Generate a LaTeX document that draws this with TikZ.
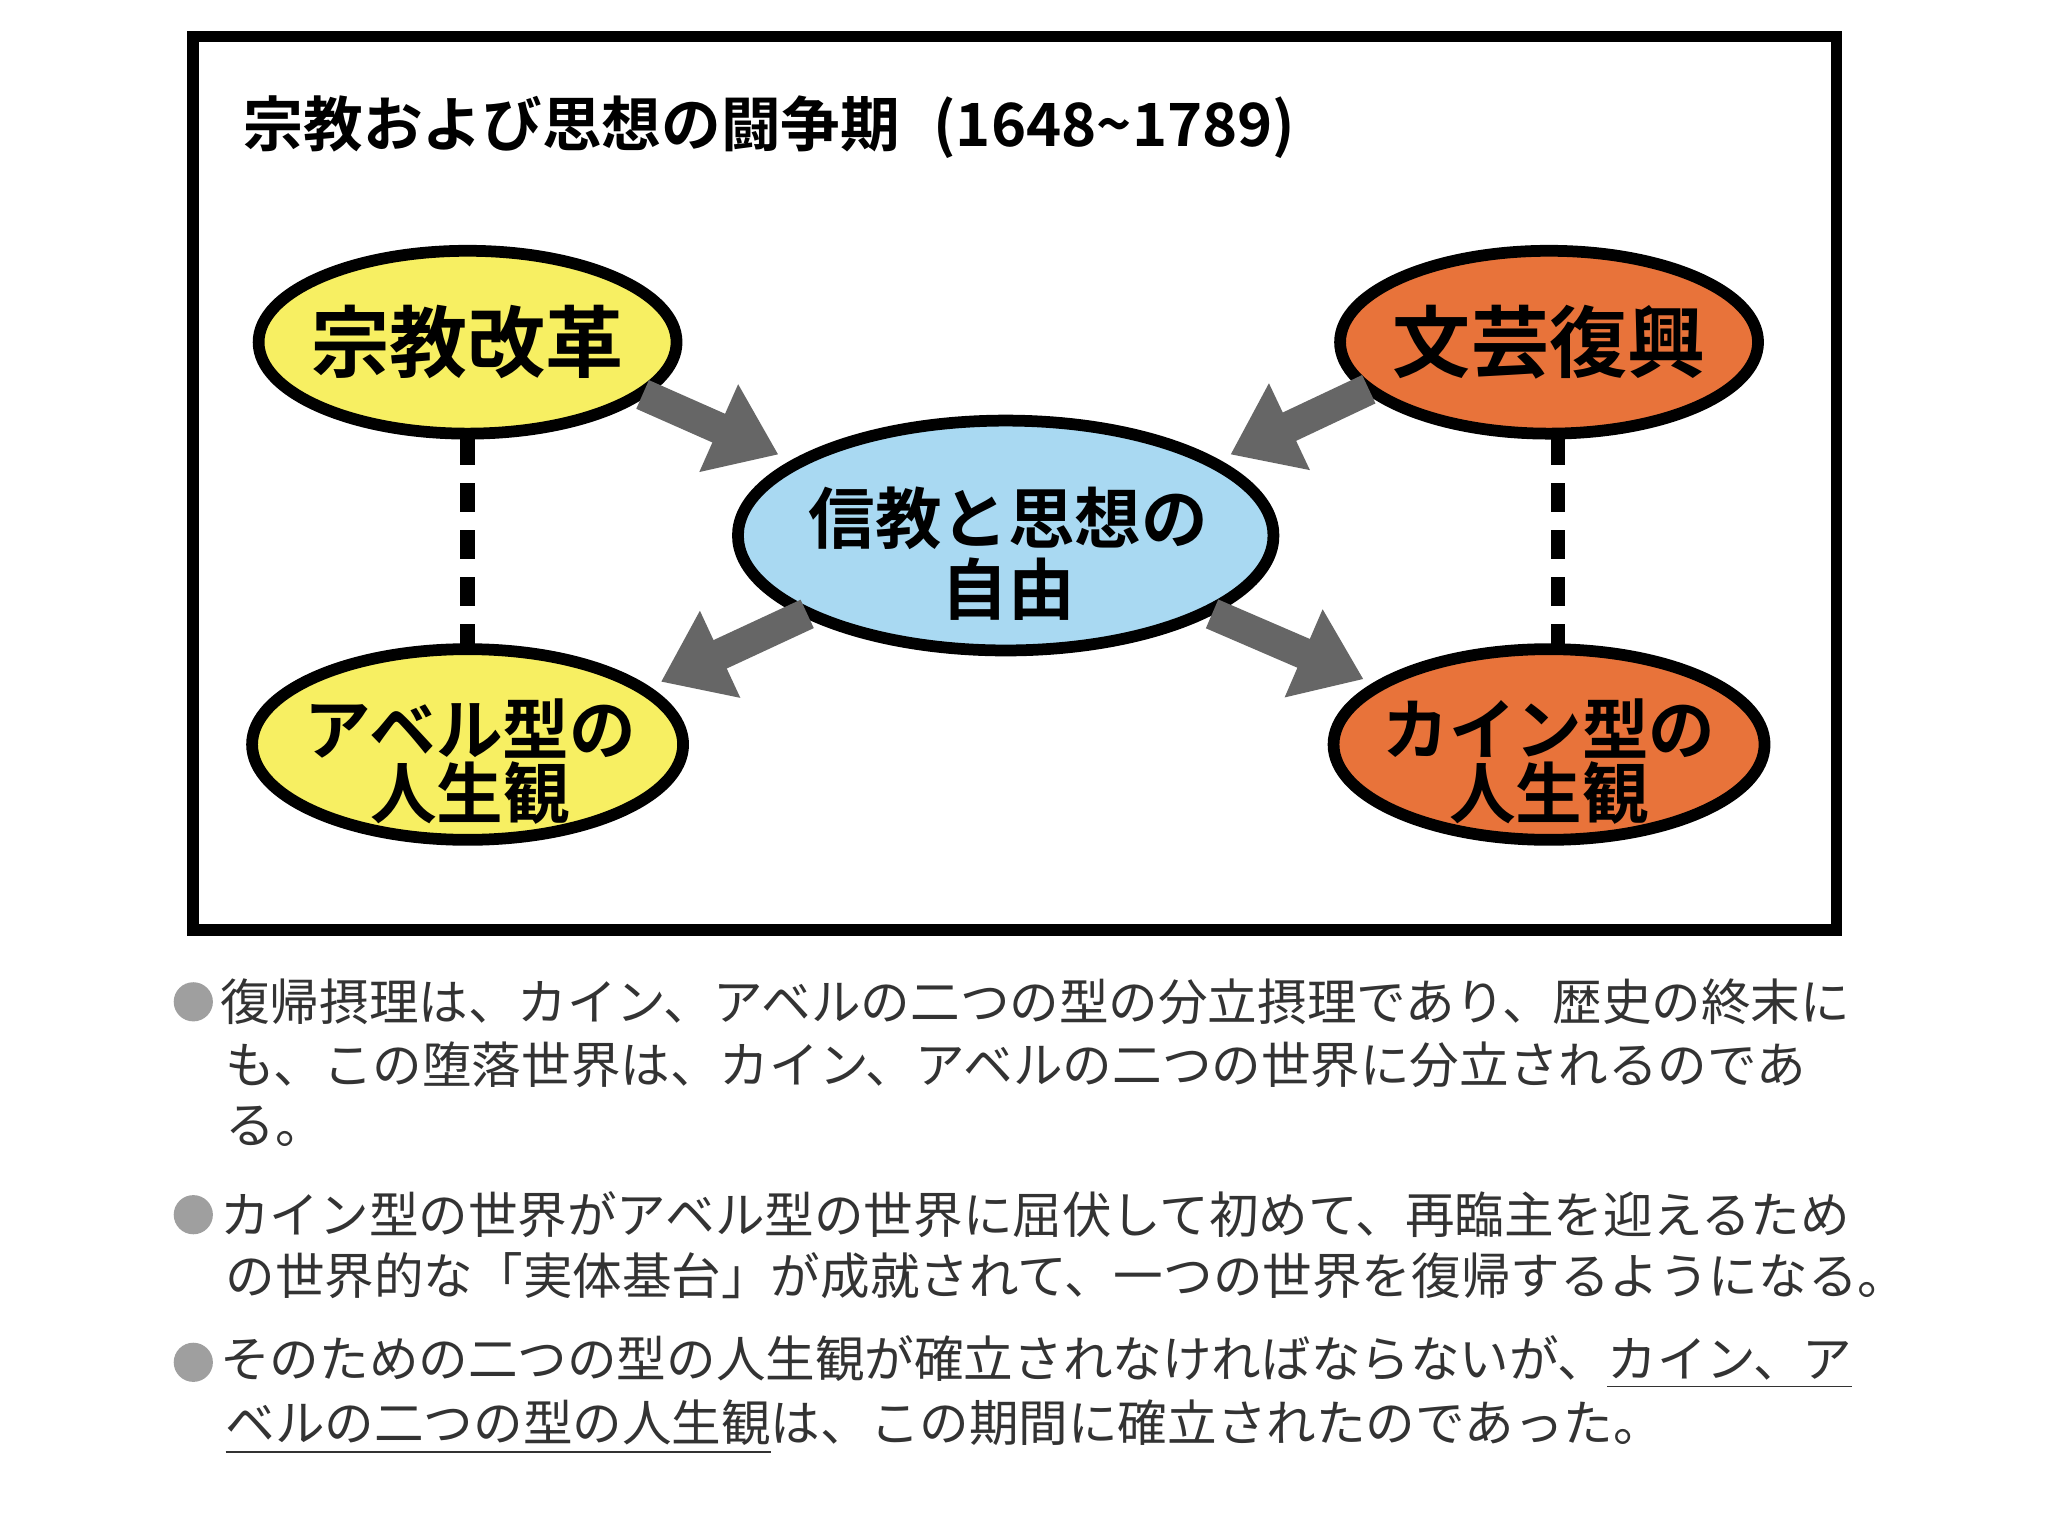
\documentclass[tikz,border=0pt]{standalone}
\usepackage{fontspec}
\newfontfamily\cjk{Noto Sans CJK JP}
\newfontfamily\cjkb{Noto Sans CJK JP}[UprightFont=* Bold]
\usetikzlibrary{arrows.meta}
\definecolor{yel}{HTML}{F7EF62}
\definecolor{ora}{HTML}{E8733A}
\definecolor{blu}{HTML}{A9D9F2}
\definecolor{arr}{HTML}{666666}
\definecolor{txt}{HTML}{333333}
\begin{document}
\begin{tikzpicture}[x=0.1mm,y=-0.1mm,
  lab/.style={font=\cjkb\fontsize{17pt}{19pt}\selectfont,align=center},
  garr/.style={arr,line width=2.4mm,-{Triangle[length=5mm,width=7mm]}},
  dots/.style={line width=1.1mm,dash pattern=on 2.2mm off 1.4mm},
  body/.style={anchor=west,inner sep=0pt,text=txt,font=\cjk\fontsize{10.8pt}{12pt}\selectfont},
  bul/.style={fill=gray!75,draw=none,circle,minimum size=3mm,inner sep=0pt}]
\useasboundingbox (0,0) rectangle (1568,1176);
\fill[white] (0,0) rectangle (1568,1176);
\draw[line width=0.9mm] (148,28) rectangle (1406,712);
\node[anchor=west,inner sep=0pt,font=\cjkb\fontsize{13pt}{15pt}\selectfont] (title) at (186,97) {宗教および思想の闘争期\;\;(1648\textasciitilde 1789)};
% ellipses
\fill[yel] (358,262) ellipse (160 and 70); \draw[line width=0.9mm] (358,262) ellipse (160 and 70);
\node[lab] (rel) at (358,262) {宗教改革};
\fill[ora] (1186,262) ellipse (160 and 70); \draw[line width=0.9mm] (1186,262) ellipse (160 and 70);
\node[lab] (ren) at (1186,262) {文芸復興};
\fill[blu] (770,410) ellipse (205 and 88); \draw[line width=0.9mm] (770,410) ellipse (205 and 88);
\node[lab,font=\cjkb\fontsize{14.5pt}{15.5pt}\selectfont] (cen) at (772,424) {信教と思想の\\自由};
\fill[yel] (358,570) ellipse (165 and 73); \draw[line width=0.9mm] (358,570) ellipse (165 and 73);
\node[lab,font=\cjkb\fontsize{14.5pt}{14pt}\selectfont] (abel) at (360,583) {アベル型の\\人生観};
\fill[ora] (1186,570) ellipse (165 and 73); \draw[line width=0.9mm] (1186,570) ellipse (165 and 73);
\node[lab,font=\cjkb\fontsize{14.5pt}{14pt}\selectfont] (cain) at (1186,583) {カイン型の\\人生観};
% connectors
\coordinate (a1) at (492,302); \coordinate (a2) at (596,348);
\coordinate (b1) at (1048,298); \coordinate (b2) at (942,348);
\coordinate (c1) at (618,470); \coordinate (c2) at (506,522);
\coordinate (d1) at (928,470); \coordinate (d2) at (1044,520);
\draw[garr] (a1) -- (a2);
\draw[garr] (b1) -- (b2);
\draw[garr] (c1) -- (c2);
\draw[garr] (d1) -- (d2);
\coordinate (v1) at (358,334); \coordinate (v2) at (358,496);
\coordinate (w1) at (1193,334); \coordinate (w2) at (1193,496);
\draw[dots] (v1) -- (v2);
\draw[dots] (w1) -- (w2);
% body text
\node[bul] (b1b) at (148,767) {};
\node[body] (l1) at (168,767) {復帰摂理は、カイン、アベルの二つの型の分立摂理であり、歴史の終末に};
\node[body] (l2) at (172,815) {も、この堕落世界は、カイン、アベルの二つの世界に分立されるのであ};
\node[body] (l3) at (172,862) {る。};
\node[bul] (b2b) at (148,930) {};
\node[body] (l4) at (168,930) {カイン型の世界がアベル型の世界に屈伏して初めて、再臨主を迎えるため};
\node[body] (l5) at (172,977) {の世界的な「実体基台」が成就されて、一つの世界を復帰するようになる。};
\node[bul] (b3b) at (148,1043) {};
\node[body] (l6) at (168,1043) {そのための二つの型の人生観が確立されなければならないが、\underline{カイン、ア}};
\node[body] (l7) at (172,1093) {\underline{ベルの二つの型の人生観}は、この期間に確立されたのであった。};
\end{tikzpicture}
\end{document}
